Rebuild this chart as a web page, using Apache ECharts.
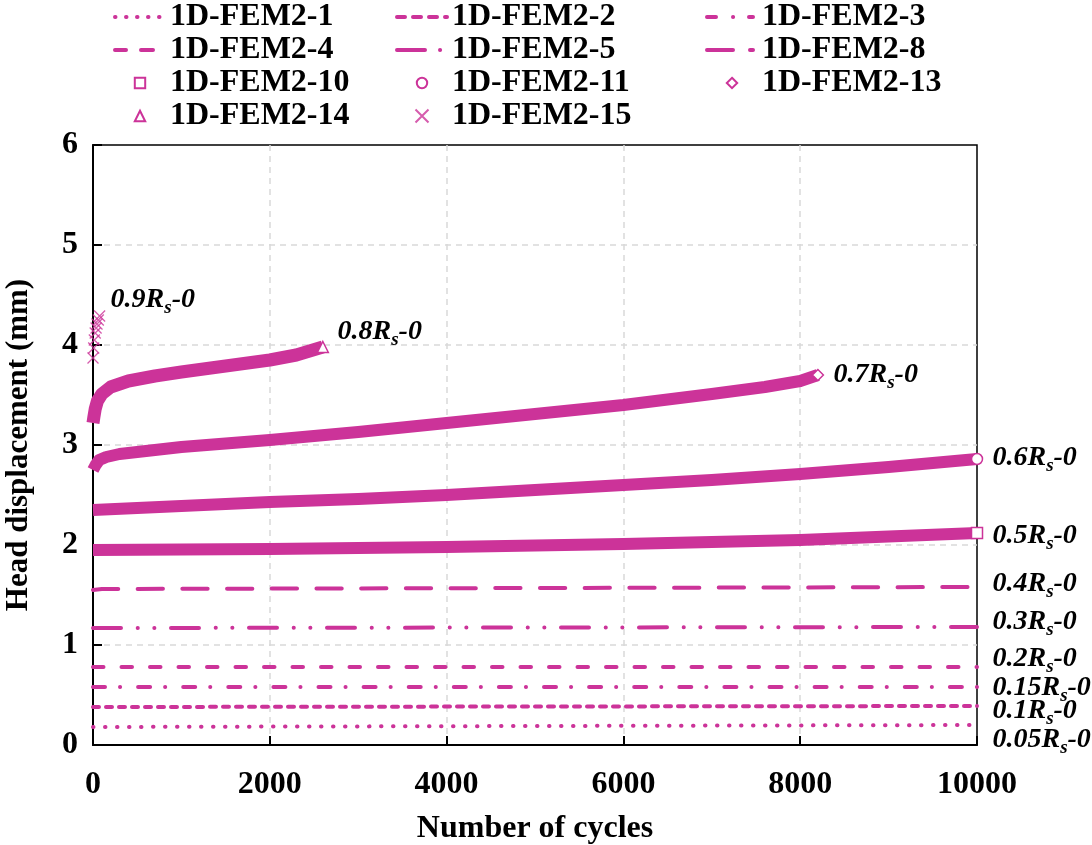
<!DOCTYPE html>
<html><head><meta charset="utf-8">
<script src="https://cdn.jsdelivr.net/npm/echarts@6/dist/echarts.min.js"></script>
<style>html,body{margin:0;padding:0;background:#fff}#c{width:1092px;height:845px}</style>
</head><body><div id="c"></div>
<script>
// ---- data (cycles, head displacement mm) ----
const fem2_1  = [[0, 0.18], [10000, 0.20]];
const fem2_2  = [[0, 0.38], [10000, 0.39]];
const fem2_3  = [[0, 0.58], [10000, 0.58]];
const fem2_4  = [[0, 0.78], [10000, 0.78]];
const fem2_5  = [[0, 1.17], [10000, 1.18]];
const fem2_8  = [[0, 1.55], [100, 1.56], [10000, 1.58]];
const fem2_10 = [[0, 1.95], [2000, 1.96], [4000, 1.98], [6000, 2.01], [8000, 2.05], [10000, 2.12]];
const fem2_11 = [[0, 2.35], [500, 2.37], [1000, 2.39], [2000, 2.43], [3000, 2.46], [4000, 2.50], [5000, 2.55], [6000, 2.60], [7000, 2.65], [8000, 2.71], [9000, 2.78], [10000, 2.86]];
const fem2_13 = [[0, 2.75], [30, 2.80], [70, 2.85], [150, 2.88], [300, 2.91], [500, 2.93], [1000, 2.98], [2000, 3.05], [3000, 3.13], [4000, 3.22], [5000, 3.31], [6000, 3.40], [7000, 3.51], [7600, 3.58], [8000, 3.64], [8200, 3.70]];
const fem2_14 = [[0, 3.22], [10, 3.28], [25, 3.36], [50, 3.44], [100, 3.51], [200, 3.58], [400, 3.64], [700, 3.69], [1000, 3.73], [1500, 3.79], [2000, 3.85], [2300, 3.90], [2600, 3.98]];
const fem2_15 = [[0, 3.87], [8, 3.97], [15, 4.05], [25, 4.12], [35, 4.17], [45, 4.21], [60, 4.25], [75, 4.29]];

const legendCol1 = ['1D-FEM2-1', '1D-FEM2-4', '1D-FEM2-10', '1D-FEM2-14'];
const legendCol2 = ['1D-FEM2-2', '1D-FEM2-5', '1D-FEM2-11', '1D-FEM2-15'];
const legendCol3 = ['1D-FEM2-3', '1D-FEM2-8', '1D-FEM2-13'];

// annotation labels and anchors (data coordinates)
const annoText = ['0.9', '0.8', '0.7', '0.6', '0.5', '0.4', '0.3', '0.2', '0.15', '0.1', '0.05'];
const annoX = [199, 2766, 8377, 10175, 10175, 10175, 10175, 10175, 10175, 10175, 10175];
const annoY = [4.45, 4.13, 3.70, 2.875, 2.09, 1.61, 1.23, 0.86, 0.57, 0.34, 0.05];

const xTicks = { min: 0, max: 10000, interval: 2000 };
const yTicks = { min: 0, max: 6, interval: 1 };

const MAG = '#CC3399';
const FONT = 'Liberation Serif';
const CLEAR = 'rgba(0,0,0,0)';
const markerNames = ['1D-FEM2-10', '1D-FEM2-11', '1D-FEM2-13', '1D-FEM2-14'];
const dashStyles = {
  '1D-FEM2-1': [0.5, 11.5],
  '1D-FEM2-2': [6, 7],
  '1D-FEM2-3': [12, 15, 0.1, 18],
  '1D-FEM2-4': [10.5, 18],
  '1D-FEM2-5': [28, 16.7, 0.1, 16.5, 0.1, 16.6],
  '1D-FEM2-8': [25.3, 19.4]
};
const legendDash = {
  '1D-FEM2-1': [0.5, 10.5],
  '1D-FEM2-2': [8, 8],
  '1D-FEM2-3': [9, 17, 0.1, 15.9, 4, 30],
  '1D-FEM2-4': [11, 15, 12, 30],
  '1D-FEM2-5': [28, 15, 0.1, 30],
  '1D-FEM2-8': [26, 17, 3, 30]
};

function dashLine(name, data) {
  return { type: 'line', name, data, symbol: 'none', clip: false, silent: true,
    lineStyle: { color: MAG, width: 4, type: dashStyles[name], cap: 'round' }, itemStyle: { color: MAG } };
}
function bandLine(name, data, symbol, size, width) {
  const last = data.length - 1;
  return { type: 'line', name, data, clip: false, silent: true,
    symbol, showSymbol: true, showAllSymbol: true,
    symbolSize: (v, p) => (p.dataIndex === last ? size : 0),
    lineStyle: { color: MAG, width, join: 'round' },
    itemStyle: { color: '#fff', borderColor: MAG, borderWidth: 1.5 }, z: 3 };
}

const series = [
  dashLine('1D-FEM2-1', fem2_1),
  dashLine('1D-FEM2-2', fem2_2),
  dashLine('1D-FEM2-3', fem2_3),
  dashLine('1D-FEM2-4', fem2_4),
  dashLine('1D-FEM2-5', fem2_5),
  dashLine('1D-FEM2-8', fem2_8),
  bandLine('1D-FEM2-10', fem2_10, 'rect', 11, 12),
  bandLine('1D-FEM2-11', fem2_11, 'circle', 11, 12),
  bandLine('1D-FEM2-13', fem2_13, 'diamond', 11, 12),
  bandLine('1D-FEM2-14', fem2_14, 'triangle', 11, 13),
  { type: 'scatter', name: '1D-FEM2-15', data: fem2_15, clip: false, silent: true,
    symbol: 'path://M0,0L10,10M10,0L0,10', symbolSize: 11,
    itemStyle: { color: CLEAR, borderColor: MAG, borderWidth: 1.3 }, z: 4 }
];

function legendOf(names, left) {
  return {
    orient: 'vertical', left, top: 1, padding: 0, itemWidth: 50, itemHeight: 13, itemGap: 1,
    selectedMode: false,
    data: names.map(n => {
      if (markerNames.includes(n)) return { name: n, lineStyle: { color: CLEAR } };
      if (legendDash[n]) return { name: n,
        lineStyle: { color: MAG, width: 4, type: legendDash[n], cap: 'round' },
        itemStyle: { color: CLEAR, borderColor: CLEAR, borderWidth: 0 } };
      return { name: n };
    }),
    textStyle: { fontFamily: FONT, fontWeight: 'bold', fontSize: 32, color: '#000', lineHeight: 30 }
  };
}

const labelStyle = { fontFamily: FONT, fontWeight: 'bold', fontSize: 32, color: '#000' };

const chart = echarts.init(document.getElementById('c'), null, { renderer: 'canvas' });
chart.setOption({
  animation: false,
  backgroundColor: '#fff',
  grid: { left: 93, top: 145, width: 884, height: 600, show: true, borderColor: '#000', borderWidth: 1.5,
          containLabel: false, outerBoundsMode: 'none' },
  legend: [legendOf(legendCol1, 113), legendOf(legendCol2, 395), legendOf(legendCol3, 705)],
  xAxis: {
    type: 'value', min: xTicks.min, max: xTicks.max, interval: xTicks.interval,
    name: 'Number of cycles', nameLocation: 'middle', nameGap: 68, nameTextStyle: labelStyle,
    axisLine: { lineStyle: { color: '#000', width: 2 } },
    axisTick: { inside: true, length: 9, lineStyle: { color: '#000', width: 2 } },
    axisLabel: Object.assign({ margin: 24, formatter: v => String(v) }, labelStyle),
    splitLine: { show: true, showMinLine: false, showMaxLine: false, lineStyle: { color: '#d9d9d9', type: [6, 5], width: 1.5 } }
  },
  yAxis: {
    type: 'value', min: yTicks.min, max: yTicks.max, interval: yTicks.interval,
    name: 'Head displacement (mm)', nameLocation: 'middle', nameGap: 59,
    nameTextStyle: Object.assign({}, labelStyle, { fontSize: 31 }),
    axisLine: { lineStyle: { color: '#000', width: 2 } },
    axisTick: { inside: true, length: 9, lineStyle: { color: '#000', width: 2 } },
    axisLabel: Object.assign({ margin: 15 }, labelStyle),
    splitLine: { show: true, showMinLine: false, showMaxLine: false, lineStyle: { color: '#d9d9d9', type: [6, 5], width: 1.5 } }
  },
  series
});

const graphics = annoText.map((t, i) => {
  const p = chart.convertToPixel({ gridIndex: 0 }, [annoX[i], annoY[i]]);
  return {
    type: 'text', x: p[0], y: p[1], z: 10, silent: true,
    style: {
      text: '{m|' + t + 'R}{s|s}{m|-0}', align: 'left', verticalAlign: 'middle',
      rich: {
        m: { fontFamily: FONT, fontWeight: 'bold', fontStyle: 'italic', fontSize: 28, fill: '#000', lineHeight: 36, verticalAlign: 'middle' },
        s: { fontFamily: FONT, fontWeight: 'bold', fontStyle: 'italic', fontSize: 19, fill: '#000', lineHeight: 19, verticalAlign: 'bottom' }
      }
    }
  };
});
chart.setOption({ graphic: graphics });
</script></body></html>
